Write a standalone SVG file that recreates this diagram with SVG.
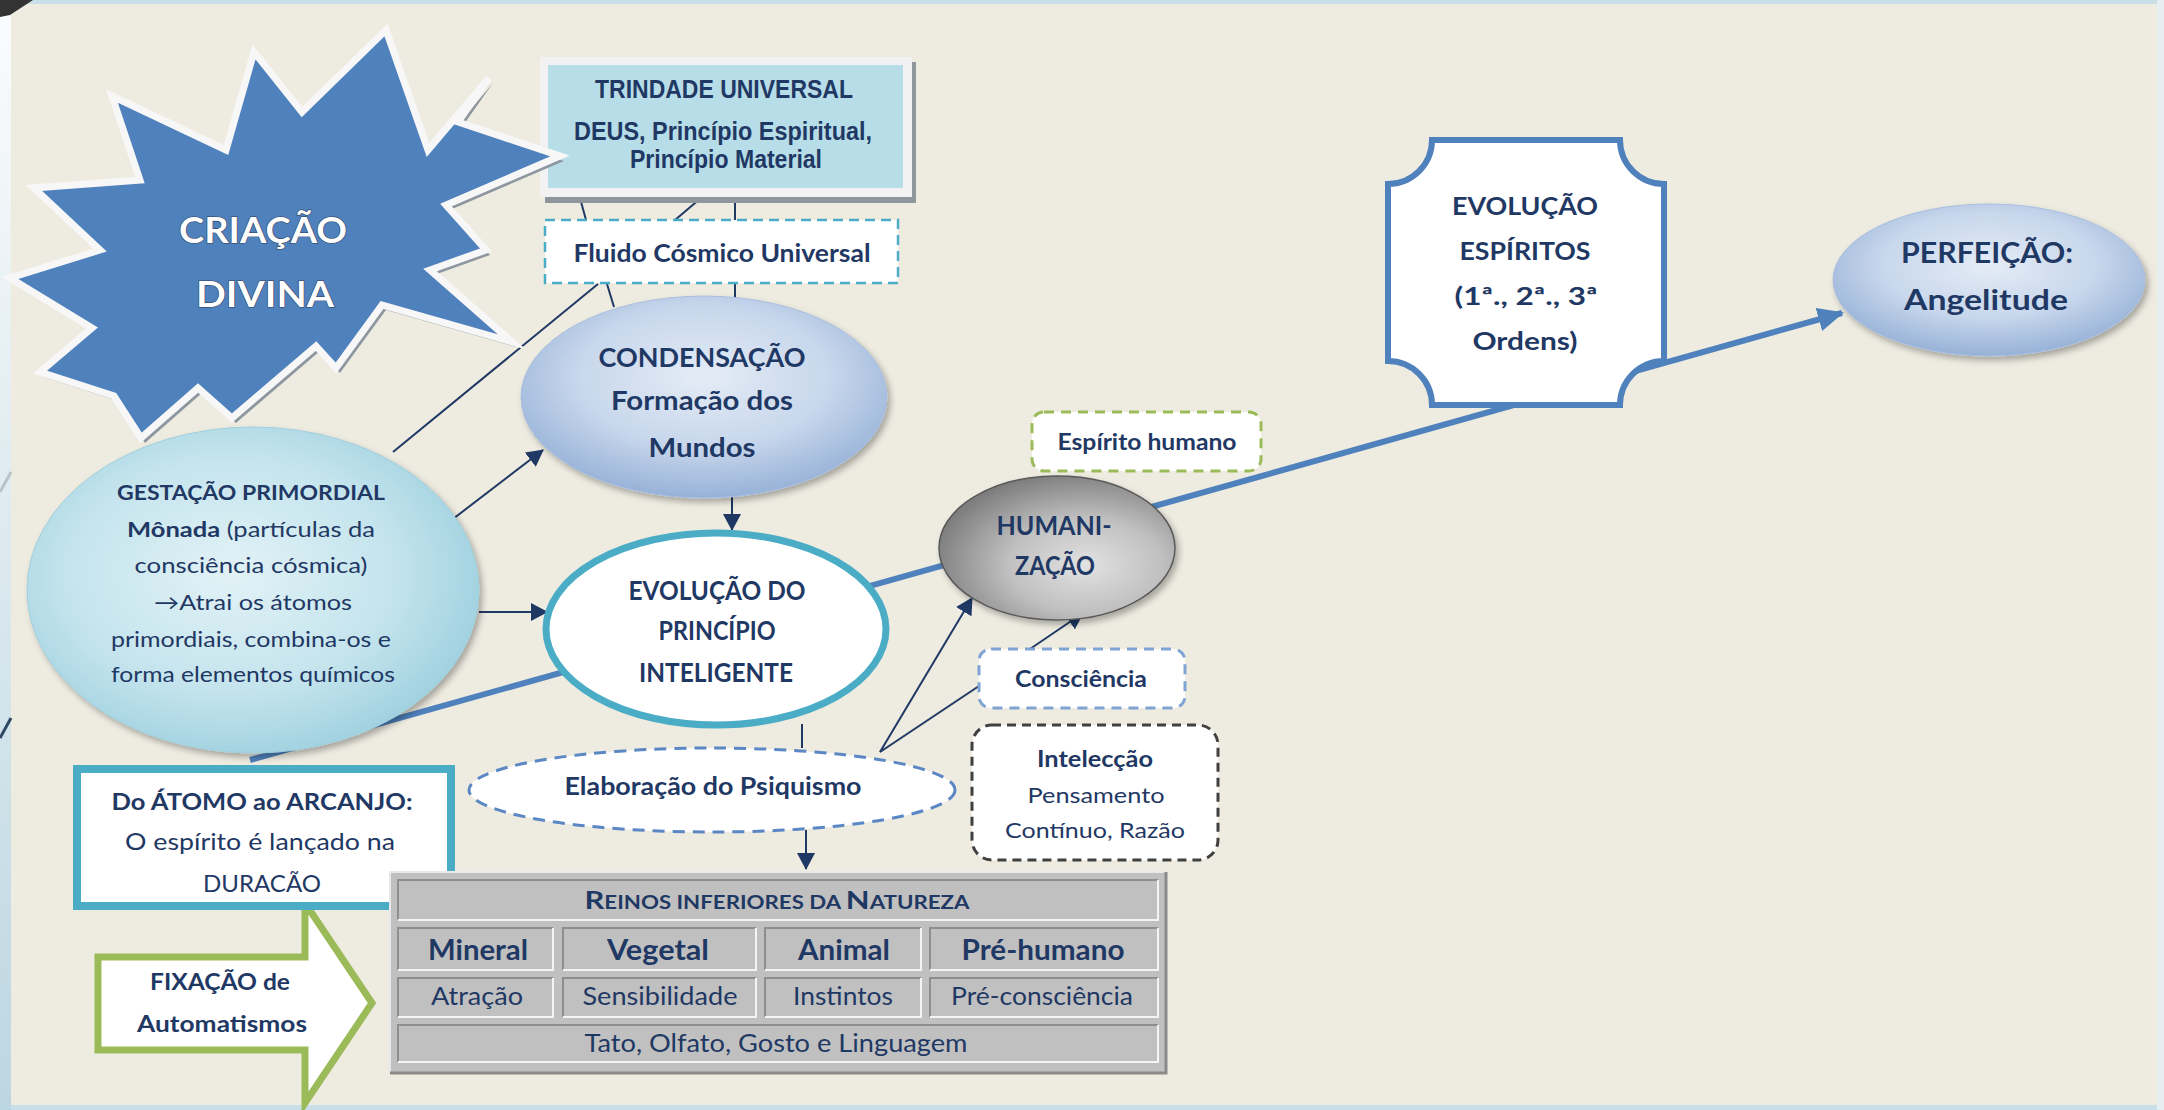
<svg xmlns="http://www.w3.org/2000/svg" width="2164" height="1110" viewBox="0 0 2164 1110">
<defs>
<style>
.t{font-family:Lato,"Liberation Sans",sans-serif;fill:#1F3864;text-anchor:middle}
.b{font-weight:bold}
.nw{font-family:"Liberation Sans Narrow","Arial Narrow","Liberation Sans",sans-serif}
.ln{stroke:#1F3864;stroke-width:2;fill:none}
.ar{stroke:#1F3864;stroke-width:2;fill:none;marker-end:url(#ah)}
.cell{fill:#C0C0C0}
.dk{stroke:#8E8E8E;stroke-width:2;fill:none}
.lt{stroke:#F4F4F4;stroke-width:2;fill:none}
</style>
<marker id="ah" markerUnits="userSpaceOnUse" markerWidth="17" markerHeight="18" viewBox="0 0 17 18" refX="16" refY="9" orient="auto"><path d="M0,0 L17,9 L0,18 Z" fill="#1F3864"/></marker>
<marker id="bah" markerUnits="userSpaceOnUse" markerWidth="26" markerHeight="24" viewBox="0 0 26 24" refX="24" refY="12" orient="auto"><path d="M0,0 L26,12 L0,24 Z" fill="#4F81BD"/></marker>
<linearGradient id="strip" x1="0" y1="0" x2="0" y2="1"><stop offset="0" stop-color="#FBFCFD"/><stop offset="1" stop-color="#BCD6E1"/></linearGradient>
<radialGradient id="gBlue" cx="50%" cy="40%" r="62%"><stop offset="0" stop-color="#E4ECF6"/><stop offset="0.55" stop-color="#C8D7EC"/><stop offset="1" stop-color="#93AFD6"/></radialGradient>
<radialGradient id="gTeal" cx="45%" cy="45%" r="60%"><stop offset="0" stop-color="#E2F2F6"/><stop offset="0.6" stop-color="#C4E4ED"/><stop offset="1" stop-color="#9CCFDE"/></radialGradient>
<radialGradient id="gGrey" cx="62%" cy="62%" r="65%"><stop offset="0" stop-color="#E2E2E2"/><stop offset="0.5" stop-color="#C0C0C0"/><stop offset="1" stop-color="#7E7E7E"/></radialGradient>
<filter id="sh" x="-10%" y="-10%" width="125%" height="130%"><feDropShadow dx="3" dy="4" stdDeviation="3" flood-color="#000" flood-opacity="0.3"/></filter>
</defs>

<!-- background -->
<rect x="0" y="0" width="2164" height="1110" fill="#C9DEE6"/>
<rect x="0" y="0" width="11" height="1110" fill="url(#strip)"/>
<rect x="11" y="4" width="2146" height="1101" fill="#EEECE1"/>
<rect x="2157" y="0" width="7" height="1110" fill="#E6EEF1"/>
<path d="M0,0 H33 L10,15 L0,17 Z" fill="#333"/>
<line x1="0" y1="492" x2="11" y2="472" stroke="#B8C4CC" stroke-width="3"/>
<line x1="0" y1="738" x2="11" y2="718" stroke="#2F4A60" stroke-width="3"/>

<!-- connectors -->
<g id="connectors">
<line x1="250" y1="760" x2="1842" y2="313" stroke="#4F81BD" stroke-width="6" marker-end="url(#bah)"/>
<line class="ln" x1="580" y1="198" x2="586" y2="220"/>
<line class="ln" x1="701" y1="198" x2="675" y2="220"/>
<line class="ln" x1="735" y1="198" x2="735" y2="220"/>
<line class="ln" x1="598" y1="284" x2="393" y2="452"/>
<line class="ln" x1="607" y1="284" x2="614" y2="307"/>
<line class="ln" x1="735" y1="284" x2="735" y2="298"/>
<line class="ar" x1="449" y1="522" x2="543" y2="450"/>
<line class="ar" x1="479" y1="612" x2="547" y2="612"/>
<line class="ar" x1="732" y1="497" x2="732" y2="530"/>
<line class="ln" x1="802" y1="724" x2="802" y2="748"/>
<line class="ar" x1="806" y1="830" x2="806" y2="869"/>
<line class="ar" x1="880" y1="752" x2="972" y2="598"/>
<line class="ln" x1="880" y1="752" x2="979" y2="686"/>
<line class="ar" x1="1030" y1="649" x2="1083" y2="613"/>
</g>

<!-- TRINDADE -->
<g id="trindade">
<rect x="545" y="62" width="371" height="141" fill="#8F969C"/>
<rect x="540" y="57" width="372" height="140" fill="#F2F2F2"/>
<rect x="548" y="65" width="355" height="123" fill="#B7DDE8"/>
<text class="t b nw" x="724" y="98" font-size="25" textLength="258" lengthAdjust="spacingAndGlyphs">TRINDADE UNIVERSAL</text>
<text class="t b nw" x="723" y="140" font-size="25" textLength="298" lengthAdjust="spacingAndGlyphs">DEUS, Princípio Espiritual,</text>
<text class="t b nw" x="726" y="168" font-size="25" textLength="192" lengthAdjust="spacingAndGlyphs">Princípio Material</text>
</g>

<!-- CRIAÇÃO DIVINA -->
<g id="criacao">
<polygon transform="translate(4,5)" fill="#8E979F" points="386,30 428,150 489,78 458,122 560,156 446,205 486,250 430,270 512,342 382,305 336,368 316,346 232,418 198,388 141,438 114,396 40,372 92,328 10,278 100,250 34,188 140,180 112,96 226,150 254,52 302,112"/>
<polygon fill="#4F81BD" stroke="#F7F7F7" stroke-width="7" stroke-miterlimit="10" stroke-linejoin="miter" points="386,30 428,150 489,78 458,122 560,156 446,205 486,250 430,270 512,342 382,305 336,368 316,346 232,418 198,388 141,438 114,396 40,372 92,328 10,278 100,250 34,188 140,180 112,96 226,150 254,52 302,112"/>
<text class="t b" x="263" y="243" font-size="37" style="fill:#FFFFFF;stroke:#2E3F5E;stroke-width:1.2;paint-order:stroke" textLength="168" lengthAdjust="spacingAndGlyphs">CRIAÇÃO</text>
<text class="t b" x="265" y="307" font-size="37" style="fill:#FFFFFF;stroke:#2E3F5E;stroke-width:1.2;paint-order:stroke" textLength="138" lengthAdjust="spacingAndGlyphs">DIVINA</text>
</g>

<!-- Fluido -->
<g id="fluido">
<rect x="545" y="220" width="353" height="63" fill="#FFFFFF" stroke="#4BACC6" stroke-width="2.5" stroke-dasharray="10 6"/>
<text class="t b" x="722" y="262" font-size="25" textLength="297" lengthAdjust="spacingAndGlyphs">Fluido Cósmico Universal</text>
</g>

<!-- CONDENSAÇÃO -->
<g id="condensacao">
<ellipse cx="704" cy="397" rx="183" ry="101" fill="url(#gBlue)" stroke="#A8BEDF" stroke-width="1" filter="url(#sh)"/>
<text class="t b" x="702" y="367" font-size="26" textLength="207" lengthAdjust="spacingAndGlyphs">CONDENSAÇÃO</text>
<text class="t b" x="702" y="410" font-size="26" textLength="182" lengthAdjust="spacingAndGlyphs">Formação dos</text>
<text class="t b" x="702" y="457" font-size="26" textLength="107" lengthAdjust="spacingAndGlyphs">Mundos</text>
</g>

<!-- GESTAÇÃO -->
<g id="gestacao">
<ellipse cx="253" cy="590" rx="226" ry="163" fill="url(#gTeal)" stroke="#9FCFDC" stroke-width="1" filter="url(#sh)"/>
<text class="t b" x="251" y="500" font-size="21" textLength="268" lengthAdjust="spacingAndGlyphs">GESTAÇÃO PRIMORDIAL</text>
<text class="t" x="251" y="537" font-size="21" textLength="248" lengthAdjust="spacingAndGlyphs"><tspan font-weight="bold">Mônada</tspan> (partículas da</text>
<text class="t" x="251" y="573" font-size="21" textLength="233" lengthAdjust="spacingAndGlyphs">consciência cósmica)</text>
<text class="t" x="253" y="610" font-size="21" textLength="198" lengthAdjust="spacingAndGlyphs">→Atrai os átomos</text>
<text class="t" x="251" y="647" font-size="21" textLength="280" lengthAdjust="spacingAndGlyphs">primordiais, combina-os e</text>
<text class="t" x="253" y="682" font-size="21" textLength="284" lengthAdjust="spacingAndGlyphs">forma elementos químicos</text>
</g>

<!-- EVOLUÇÃO DO PRINCÍPIO INTELIGENTE -->
<g id="evolucao-principio">
<ellipse cx="716" cy="629" rx="170" ry="96" fill="#FFFFFF" stroke="#4BACC6" stroke-width="7"/>
<text class="t b" x="717" y="600" font-size="26" textLength="177" lengthAdjust="spacingAndGlyphs">EVOLUÇÃO DO</text>
<text class="t b" x="717" y="640" font-size="26" textLength="117" lengthAdjust="spacingAndGlyphs">PRINCÍPIO</text>
<text class="t b" x="716" y="682" font-size="26" textLength="154" lengthAdjust="spacingAndGlyphs">INTELIGENTE</text>
</g>

<!-- Elaboração do Psiquismo -->
<g id="elaboracao">
<ellipse cx="712" cy="790" rx="243" ry="42" fill="#FFFFFF" stroke="#5B87C5" stroke-width="3" stroke-dasharray="12 8"/>
<text class="t b" x="713" y="795" font-size="25" textLength="297" lengthAdjust="spacingAndGlyphs">Elaboração do Psiquismo</text>
</g>

<!-- HUMANIZAÇÃO -->
<g id="humanizacao">
<ellipse cx="1057" cy="548" rx="118" ry="72" fill="url(#gGrey)" stroke="#595959" stroke-width="1.5" filter="url(#sh)"/>
<text class="t b" x="1054" y="535" font-size="27" textLength="115" lengthAdjust="spacingAndGlyphs">HUMANI-</text>
<text class="t b" x="1055" y="575" font-size="27" textLength="80" lengthAdjust="spacingAndGlyphs">ZAÇÃO</text>
</g>

<!-- Espírito humano -->
<g id="espirito-humano">
<rect x="1032" y="412" width="229" height="59" rx="12" fill="#FFFFFF" stroke="#9BBB59" stroke-width="3" stroke-dasharray="10 7"/>
<text class="t b" x="1147" y="450" font-size="23" textLength="179" lengthAdjust="spacingAndGlyphs">Espírito humano</text>
</g>

<!-- Consciência -->
<g id="consciencia">
<rect x="979" y="649" width="206" height="59" rx="12" fill="#FFFFFF" stroke="#7FA3D3" stroke-width="3" stroke-dasharray="10 7"/>
<text class="t b" x="1081" y="687" font-size="23" textLength="132" lengthAdjust="spacingAndGlyphs">Consciência</text>
</g>

<!-- Intelecção -->
<g id="inteleccao">
<rect x="972" y="725" width="246" height="135" rx="20" fill="#FFFFFF" stroke="#404040" stroke-width="3" stroke-dasharray="9 6"/>
<text class="t b" x="1095" y="767" font-size="23" textLength="116" lengthAdjust="spacingAndGlyphs">Intelecção</text>
<text class="t" x="1096" y="803" font-size="22" textLength="137" lengthAdjust="spacingAndGlyphs">Pensamento</text>
<text class="t" x="1095" y="838" font-size="22" textLength="180" lengthAdjust="spacingAndGlyphs">Contínuo, Razão</text>
</g>

<!-- EVOLUÇÃO ESPÍRITOS -->
<g id="evolucao-espiritos">
<path d="M1432,140 H1620 A44,44 0 0 0 1664,184 V361 A44,44 0 0 0 1620,405 H1432 A44,44 0 0 0 1388,361 V184 A44,44 0 0 0 1432,140 Z" fill="#FFFFFF" stroke="#4F81BD" stroke-width="6"/>
<text class="t b" x="1525" y="215" font-size="25" textLength="146" lengthAdjust="spacingAndGlyphs">EVOLUÇÃO</text>
<text class="t b" x="1525" y="260" font-size="25" textLength="131" lengthAdjust="spacingAndGlyphs">ESPÍRITOS</text>
<text class="t b" x="1526" y="305" font-size="25" textLength="143" lengthAdjust="spacingAndGlyphs">(1ª., 2ª., 3ª</text>
<text class="t b" x="1525" y="350" font-size="25" textLength="105" lengthAdjust="spacingAndGlyphs">Ordens)</text>
</g>

<!-- PERFEIÇÃO -->
<g id="perfeicao">
<ellipse cx="1989" cy="280" rx="156" ry="76" fill="url(#gBlue)" stroke="#A8BEDF" stroke-width="1" filter="url(#sh)"/>
<text class="t b" x="1987" y="263" font-size="28" textLength="172" lengthAdjust="spacingAndGlyphs">PERFEIÇÃO:</text>
<text class="t b" x="1986" y="310" font-size="28" textLength="164" lengthAdjust="spacingAndGlyphs">Angelitude</text>
</g>

<!-- FIXAÇÃO arrow -->
<g id="fixacao">
<path d="M98,957 H305 V903 L372,1003 L305,1103 V1050 H98 Z" fill="#FFFFFF" stroke="#9BBB59" stroke-width="7" stroke-linejoin="miter"/>
<text class="t b" x="220" y="990" font-size="23" textLength="140" lengthAdjust="spacingAndGlyphs">FIXAÇÃO de</text>
<text class="t b" x="222" y="1032" font-size="23" textLength="170" lengthAdjust="spacingAndGlyphs">Automatismos</text>
</g>

<!-- Do ÁTOMO ao ARCANJO -->
<g id="atomo-arcanjo">
<rect x="77" y="769" width="374" height="137" fill="#FFFFFF" stroke="#4BACC6" stroke-width="8"/>
<text class="t b" x="262" y="810" font-size="23" textLength="301" lengthAdjust="spacingAndGlyphs">Do ÁTOMO ao ARCANJO:</text>
<text class="t" x="260" y="850" font-size="23" textLength="270" lengthAdjust="spacingAndGlyphs">O espírito é lançado na</text>
<text class="t" x="262" y="892" font-size="23" textLength="118" lengthAdjust="spacingAndGlyphs">DURACÃO</text>
</g>

<!-- REINOS table -->
<g id="reinos">
<rect x="390" y="872" width="776" height="201" fill="#C0C0C0"/>
<path d="M390,1073 V872 H1166" stroke="#E8E8E8" stroke-width="2" fill="none"/>
<path d="M1166,872 V1073 H390" stroke="#8A8A8A" stroke-width="3" fill="none"/>
<rect class="cell" x="398" y="880" width="760" height="40"/>
<path class="dk" d="M398,920 V880 H1158"/><path class="lt" d="M1158,880 V920 H398"/>
<path class="dk" d="M398,970 V928 H553"/><path class="lt" d="M553,928 V970 H398"/>
<path class="dk" d="M563,970 V928 H756"/><path class="lt" d="M756,928 V970 H563"/>
<path class="dk" d="M765,970 V928 H921"/><path class="lt" d="M921,928 V970 H765"/>
<path class="dk" d="M930,970 V928 H1158"/><path class="lt" d="M1158,928 V970 H930"/>
<path class="dk" d="M398,1017 V978 H553"/><path class="lt" d="M553,978 V1017 H398"/>
<path class="dk" d="M563,1017 V978 H756"/><path class="lt" d="M756,978 V1017 H563"/>
<path class="dk" d="M765,1017 V978 H921"/><path class="lt" d="M921,978 V1017 H765"/>
<path class="dk" d="M930,1017 V978 H1158"/><path class="lt" d="M1158,978 V1017 H930"/>
<path class="dk" d="M398,1062 V1025 H1158"/><path class="lt" d="M1158,1025 V1062 H398"/>
<text class="t b" x="777" y="909" font-size="18" textLength="385" lengthAdjust="spacingAndGlyphs"><tspan font-size="25">R</tspan>EINOS INFERIORES DA <tspan font-size="25">N</tspan>ATUREZA</text>
<text class="t b" x="478" y="960" font-size="28" textLength="100" lengthAdjust="spacingAndGlyphs">Mineral</text>
<text class="t b" x="658" y="960" font-size="28" textLength="102" lengthAdjust="spacingAndGlyphs">Vegetal</text>
<text class="t b" x="844" y="960" font-size="28" textLength="92" lengthAdjust="spacingAndGlyphs">Animal</text>
<text class="t b" x="1043" y="960" font-size="28" textLength="163" lengthAdjust="spacingAndGlyphs">Pré-humano</text>
<text class="t" x="477" y="1005" font-size="25" textLength="92" lengthAdjust="spacingAndGlyphs">Atração</text>
<text class="t" x="660" y="1005" font-size="25" textLength="155" lengthAdjust="spacingAndGlyphs">Sensibilidade</text>
<text class="t" x="843" y="1005" font-size="25" textLength="100" lengthAdjust="spacingAndGlyphs">Instintos</text>
<text class="t" x="1042" y="1005" font-size="25" textLength="182" lengthAdjust="spacingAndGlyphs">Pré-consciência</text>
<text class="t" x="776" y="1052" font-size="25" textLength="383" lengthAdjust="spacingAndGlyphs">Tato, Olfato, Gosto e Linguagem</text>
</g>
</svg>
